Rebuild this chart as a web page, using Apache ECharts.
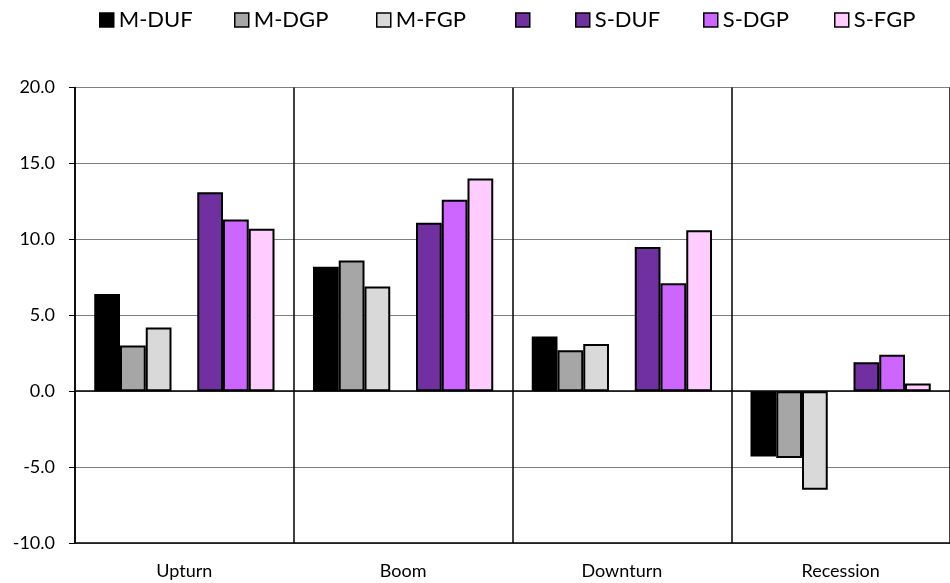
<!DOCTYPE html>
<html>
<head>
<meta charset="utf-8">
<script src="https://cdn.jsdelivr.net/npm/echarts@6/dist/echarts.min.js"></script>
<style>
  html, body { margin: 0; padding: 0; background: #fff; }
  #chart { width: 950px; height: 583px; }
</style>
</head>
<body>
<div id="chart"></div>
<script>
// phases of the cycle
var categories = ['Upturn', 'Boom', 'Downturn', 'Recession']

// series values
var seriesNames = ['M-DUF', 'M-DGP', 'M-FGP', ' ', 'S-DUF', 'S-DGP', 'S-FGP']
var mDuf = [6.4, 8.2, 3.6, -4.3]
var mDgp = [3.0, 8.6, 2.7, -4.4]
var mFgp = [4.2, 6.9, 3.1, -6.5]
var blank = [null, null, null, null]
var sDuf = [13.1, 11.1, 9.5, 1.9]
var sDgp = [11.3, 12.6, 7.1, 2.4]
var sFgp = [10.7, 14.0, 10.6, 0.5]

// value axis ticks
var yMin = -10
var yMax = 20
var yStep = 5

var seriesData = [mDuf, mDgp, mFgp, blank, sDuf, sDgp, sFgp]
var colors = ['#000000', '#a6a6a6', '#d9d9d9', '#7030a0', '#7030a0', '#cc66ff', '#ffccff']
var legendLeft = [99, 234, 376, 515, 575, 703, 834]
var font = 'Lato, "Open Sans", sans-serif'

var chart = echarts.init(document.getElementById('chart'))

var legends = seriesNames.map(function(name, i) {
  return {
    data: [name],
    left: legendLeft[i],
    top: 9,
    padding: 0,
    itemWidth: 14,
    itemHeight: 14,
    icon: 'rect',
    selectedMode: false,
    itemStyle: {
      borderColor: '#000',
      borderWidth: 1.5
    },
    textStyle: {
      fontFamily: font,
      fontSize: 22,
      lineHeight: 22,
      color: '#000'
    }
  }
})

var series = seriesNames.map(function(name, i) {
  var s = {
    name: name,
    type: 'bar',
    data: seriesData[i],
    barGap: '0%',
    barCategoryGap: '17.6%',
    animation: false,
    itemStyle: {
      color: colors[i],
      borderColor: '#000',
      borderWidth: 2
    }
  }
  if (i === 0) {
    // black line at zero
    s.markLine = {
      silent: true,
      symbol: 'none',
      label: { show: false },
      lineStyle: { color: '#000', width: 1.5, type: 'solid' },
      data: [{ yAxis: 0 }]
    }
  }
  return s
})

chart.setOption({
  animation: false,
  legend: legends,
  grid: {
    left: 75,
    right: -10,
    top: 87.5,
    bottom: 40
  },
  xAxis: {
    type: 'category',
    data: categories,
    axisLine: {
      onZero: false,
      lineStyle: { color: '#000', width: 1.5 }
    },
    axisTick: { show: false },
    splitLine: {
      show: true,
      lineStyle: { color: '#000', width: 1.5 }
    },
    axisLabel: {
      fontFamily: font,
      fontSize: 18,
      color: '#000',
      margin: 19
    }
  },
  yAxis: {
    type: 'value',
    min: yMin,
    max: yMax,
    interval: yStep,
    axisLine: {
      show: true,
      lineStyle: { color: '#000', width: 1.5 }
    },
    axisTick: {
      show: true,
      length: 6,
      lineStyle: { color: '#000', width: 1 }
    },
    splitLine: {
      lineStyle: { color: '#808080', width: 1 }
    },
    axisLabel: {
      fontFamily: font,
      fontSize: 18,
      color: '#000',
      margin: 20,
      formatter: function(v) {
        return v.toFixed(1)
      }
    }
  },
  series: series
})
</script>
</body>
</html>
